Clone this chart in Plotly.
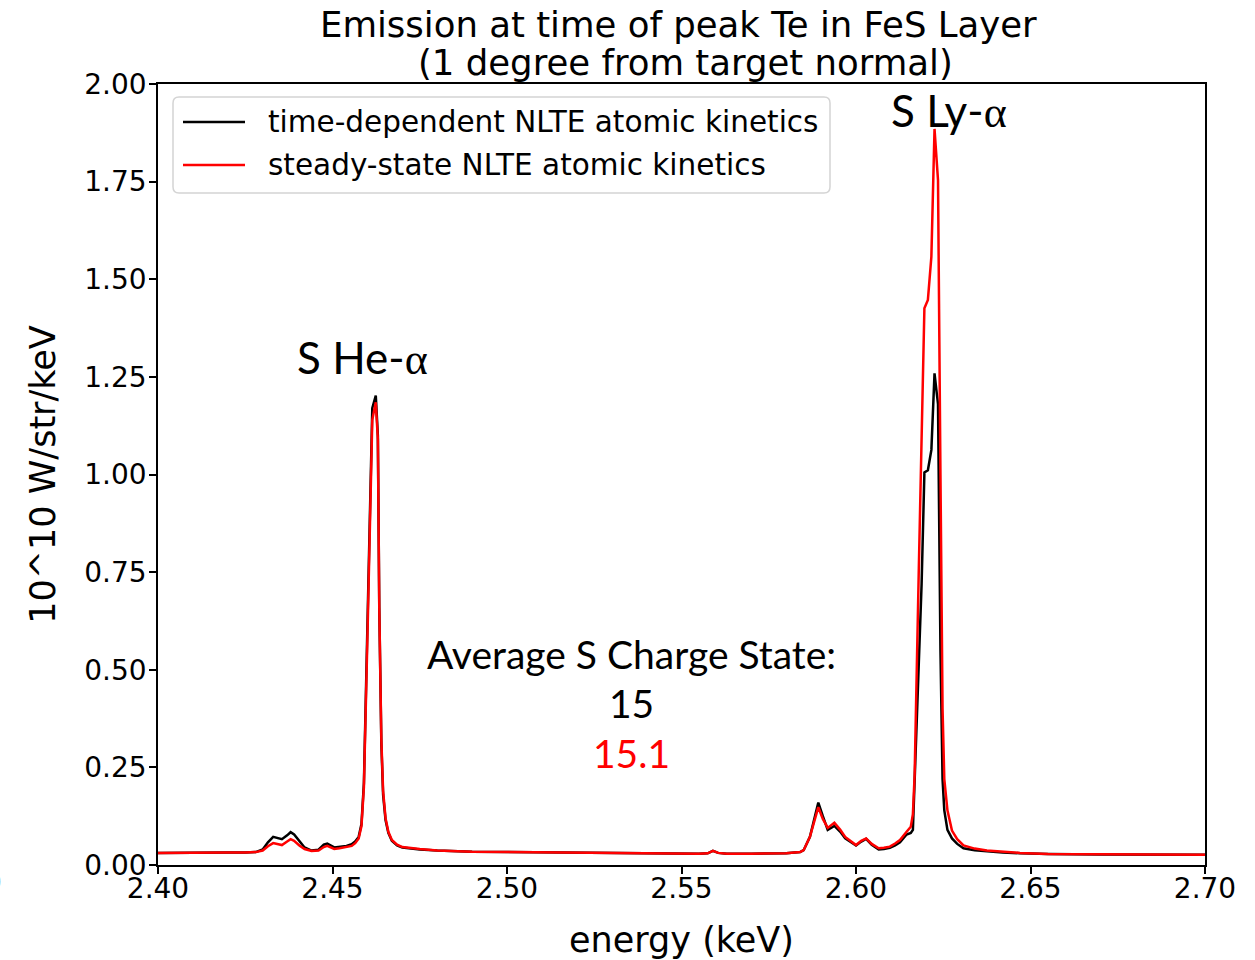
import plotly.graph_objects as go

# Photon energy grid (keV) and spectral intensity (10^10 W/str/keV)
energy = [
    2.400, 2.410, 2.415, 2.420, 2.425, 2.428, 2.430, 2.4315, 2.433, 2.4345,
    2.4355, 2.437, 2.438, 2.439, 2.4405, 2.442, 2.444, 2.446, 2.4475, 2.4485,
    2.4505, 2.452, 2.454, 2.4555, 2.4565, 2.4575, 2.4583, 2.4590, 2.4601, 2.4614,
    2.4624, 2.4630, 2.4634, 2.4640, 2.4645, 2.4652, 2.4660, 2.4670, 2.4685, 2.470,
    2.475, 2.480, 2.490, 2.500, 2.520, 2.540, 2.555, 2.5575, 2.559, 2.5605,
    2.563, 2.570, 2.580, 2.584, 2.585, 2.5868, 2.5892, 2.5905, 2.5919, 2.5938,
    2.5955, 2.5969, 2.5985, 2.6000, 2.6015, 2.6029, 2.6045, 2.6065, 2.6080, 2.6097,
    2.6112, 2.6126, 2.6145, 2.6157, 2.6163, 2.6168, 2.6180, 2.6188, 2.6196, 2.6206,
    2.6216, 2.6225, 2.6235, 2.6242, 2.6248, 2.6253, 2.6262, 2.6275, 2.6290, 2.6308,
    2.634, 2.6375, 2.642, 2.647, 2.655, 2.670, 2.685, 2.700,
]

time_dependent = [
    0.031, 0.032, 0.033, 0.032, 0.032, 0.033, 0.040, 0.058, 0.072, 0.068,
    0.066, 0.076, 0.084, 0.078, 0.060, 0.045, 0.037, 0.039, 0.052, 0.055,
    0.045, 0.046, 0.049, 0.053, 0.060, 0.072, 0.105, 0.210, 0.640, 1.170,
    1.202, 1.100, 0.660, 0.310, 0.180, 0.115, 0.082, 0.062, 0.050, 0.045,
    0.040, 0.037, 0.034, 0.033, 0.031, 0.030, 0.029, 0.030, 0.036, 0.031,
    0.029, 0.029, 0.030, 0.033, 0.038, 0.072, 0.160, 0.125, 0.090, 0.100,
    0.085, 0.068, 0.058, 0.050, 0.060, 0.067, 0.052, 0.040, 0.041, 0.044,
    0.050, 0.058, 0.078, 0.082, 0.090, 0.220, 0.480, 0.720, 1.005, 1.011,
    1.063, 1.259, 1.180, 0.550, 0.220, 0.140, 0.090, 0.068, 0.054, 0.043,
    0.038, 0.035, 0.032, 0.030, 0.028, 0.027, 0.026, 0.026,
]

steady_state = [
    0.031, 0.032, 0.033, 0.032, 0.032, 0.033, 0.037, 0.048, 0.056, 0.053,
    0.051, 0.060, 0.066, 0.062, 0.050, 0.041, 0.036, 0.037, 0.046, 0.049,
    0.041, 0.043, 0.046, 0.049, 0.056, 0.068, 0.100, 0.200, 0.620, 1.140,
    1.185, 1.090, 0.660, 0.320, 0.190, 0.120, 0.085, 0.064, 0.052, 0.046,
    0.041, 0.037, 0.034, 0.033, 0.031, 0.030, 0.029, 0.030, 0.036, 0.031,
    0.029, 0.029, 0.030, 0.033, 0.038, 0.072, 0.148, 0.118, 0.095, 0.108,
    0.090, 0.072, 0.060, 0.051, 0.062, 0.068, 0.054, 0.043, 0.044, 0.047,
    0.055, 0.064, 0.085, 0.098, 0.130, 0.230, 0.760, 1.110, 1.426, 1.447,
    1.558, 1.885, 1.754, 1.000, 0.400, 0.220, 0.140, 0.088, 0.066, 0.050,
    0.042, 0.037, 0.034, 0.031, 0.028, 0.027, 0.026, 0.026,
]

series_names = ["time-dependent NLTE atomic kinetics", "steady-state NLTE atomic kinetics"]
series_colors = ["#000000", "#ff0000"]

x_ticks = [2.40, 2.45, 2.50, 2.55, 2.60, 2.65, 2.70]
y_ticks = [0.00, 0.25, 0.50, 0.75, 1.00, 1.25, 1.50, 1.75, 2.00]

title_lines = ["Emission at time of peak Te in FeS Layer", "(1 degree from target normal)"]
charge_state_values = ["15", "15.1"]

FONT = "DejaVu Sans"
NOTE_FONT = "Lato"
GREEK_FONT = "Liberation Serif"

fig = go.Figure()
for vals, name, color in zip([time_dependent, steady_state], series_names, series_colors):
    fig.add_trace(go.Scatter(
        x=energy, y=vals, mode="lines", name=name,
        line=dict(color=color, width=2.5), showlegend=False,
    ))

W, H = 1255, 960
ML, MR, MT, MB = 158, 50, 84, 95
PW, PH = W - ML - MR, H - MT - MB


def px(xp):
    return (xp - ML) / PW


def py(yp):
    return (H - MB - yp) / PH


# Legend box with rounded corners, drawn in paper coordinates
lx0, lx1, ly0, ly1 = px(173), px(830), py(193), py(97)
rx, ry = 6 / PW, 6 / PH
legend_path = (
    f"M{lx0 + rx},{ly1} L{lx1 - rx},{ly1} Q{lx1},{ly1} {lx1},{ly1 - ry} "
    f"L{lx1},{ly0 + ry} Q{lx1},{ly0} {lx1 - rx},{ly0} "
    f"L{lx0 + rx},{ly0} Q{lx0},{ly0} {lx0},{ly0 + ry} "
    f"L{lx0},{ly1 - ry} Q{lx0},{ly1} {lx0 + rx},{ly1} Z"
)
shapes = [dict(type="path", xref="paper", yref="paper", path=legend_path,
               line=dict(color="#d4d4d4", width=1.5), fillcolor="rgba(255,255,255,0.8)")]
annotations = []
for i, (name, color) in enumerate(zip(series_names, series_colors)):
    yl = py(122 + 43 * i)
    shapes.append(dict(type="line", xref="paper", yref="paper",
                       x0=px(183), x1=px(245), y0=yl, y1=yl,
                       line=dict(color=color, width=2.5)))
    annotations.append(dict(xref="paper", yref="paper", x=px(266), y=yl,
                            xanchor="left", yanchor="middle", showarrow=False,
                            text=name, font=dict(family=FONT, size=29.5, color="black")))

# Two-line title
for i, line in enumerate(title_lines):
    annotations.append(dict(xref="paper", yref="paper", x=px(678 + 7 * i), y=py(24 + 39 * i),
                            xanchor="center", yanchor="middle", showarrow=False,
                            text=line, font=dict(family=FONT, size=35.5, color="black")))

alpha = f"<span style=\"font-family:{GREEK_FONT}\">α</span>"
annotations += [
    dict(x=2.4585, y=1.300, text=f"S He-{alpha}", showarrow=False,
         xanchor="center", yanchor="middle", font=dict(family=NOTE_FONT, size=44, color="black")),
    dict(x=2.6266, y=1.933, text=f"S Ly-{alpha}", showarrow=False,
         xanchor="center", yanchor="middle", font=dict(family=NOTE_FONT, size=44, color="black")),
    dict(x=2.5358, y=0.541, text="Average S Charge State:", showarrow=False,
         xanchor="center", yanchor="middle", font=dict(family=NOTE_FONT, size=39, color="black")),
    dict(x=2.5358, y=0.415, text=charge_state_values[0], showarrow=False,
         xanchor="center", yanchor="middle", font=dict(family=NOTE_FONT, size=39, color="black")),
    dict(x=2.5358, y=0.287, text=charge_state_values[1], showarrow=False,
         xanchor="center", yanchor="middle", font=dict(family=NOTE_FONT, size=39, color="#ff0000")),
    dict(xref="paper", yref="paper", x=px(4), y=py(882), text="0", showarrow=False,
         xanchor="right", yanchor="middle", font=dict(family=FONT, size=28, color="black")),
]

axis_common = dict(
    showgrid=False, zeroline=False, showline=True, linecolor="black", linewidth=1.5,
    mirror=True, ticks="outside", ticklen=7, tickwidth=1.5, tickcolor="black",
    tickfont=dict(family=FONT, size=28, color="black"), automargin=False,
)

fig.update_layout(
    width=W, height=H,
    margin=dict(l=ML, r=MR, t=MT, b=MB),
    paper_bgcolor="white", plot_bgcolor="white",
    xaxis=dict(
        range=[2.40, 2.70], tickvals=x_ticks, ticktext=[f"{v:.2f}" for v in x_ticks],
        ticklabelstandoff=-9,
        title=dict(text="energy (keV)", font=dict(family=FONT, size=35, color="black"), standoff=23),
        **axis_common,
    ),
    yaxis=dict(
        range=[0, 2.0], tickvals=y_ticks, ticktext=[f"{v:.2f}" for v in y_ticks],
        ticklabelstandoff=-3,
        title=dict(text="10^10 W/str/keV", font=dict(family=FONT, size=35, color="black"), standoff=18),
        **axis_common,
    ),
    shapes=shapes,
    annotations=annotations,
)

fig.write_html("out.html")
